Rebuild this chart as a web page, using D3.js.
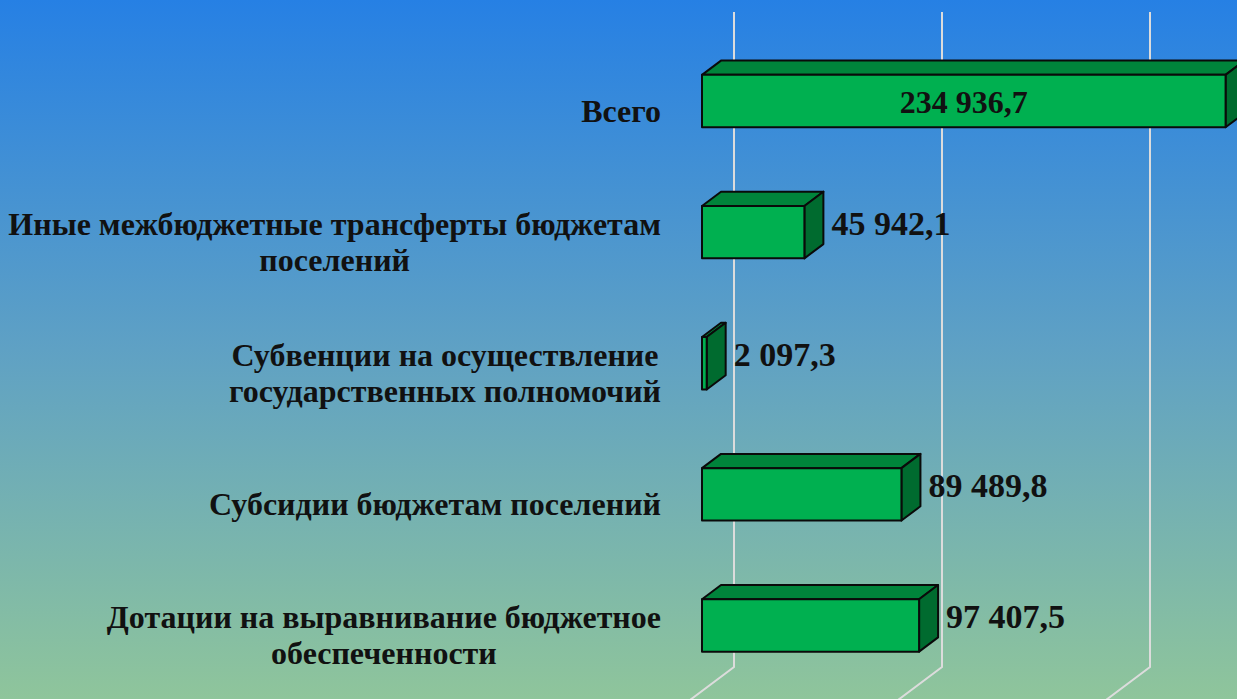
<!DOCTYPE html>
<html>
<head>
<meta charset="utf-8">
<script src="https://cdn.jsdelivr.net/npm/d3@7"></script>
<style>
  html, body { margin: 0; padding: 0; overflow: hidden; }
  svg { display: block; }
  text { font-family: "Liberation Serif", "Times New Roman", serif; font-weight: bold; fill: #111; }
</style>
</head>
<body>
<div id="chart"></div>
<script>
// категории сверху вниз, как на слайде
const categories = [
    'Всего',
    'Иные межбюджетные трансферты бюджетам поселений',
    'Субвенции на осуществление государственных полномочий',
    'Субсидии бюджетам поселений',
    'Дотации на выравнивание бюджетное обеспеченности'
];
const categoryLines = [
    ['Всего'],
    ['Иные межбюджетные трансферты бюджетам', 'поселений'],
    ['Субвенции на осуществление', 'государственных полномочий'],
    ['Субсидии бюджетам поселений'],
    ['Дотации на выравнивание бюджетное', 'обеспеченности']
];
const values = [234936.7, 45942.1, 2097.3, 89489.8, 97407.5];
const axisMax = 280000;
const gridCount = 3;

const W = 1237, H = 699;
const svg = d3.select('#chart').append('svg')
    .attr('width', W)
    .attr('height', H);

const defs = svg.append('defs');
const bg = defs.append('linearGradient')
    .attr('id', 'bg')
    .attr('x1', '0%').attr('y1', '0%')
    .attr('x2', '0%').attr('y2', '100%');
bg.append('stop').attr('offset', '0%').attr('stop-color', '#2680e4');
bg.append('stop').attr('offset', '50%').attr('stop-color', '#5fa1c4');
bg.append('stop').attr('offset', '100%').attr('stop-color', '#8fc59b');

svg.append('rect')
    .attr('width', W)
    .attr('height', H)
    .attr('fill', 'url(#bg)');

// 3D geometry
const slope = 0.75;           // dy per dx of depth
const floorDepth = 45;
const barDepth = 19;
const floorFront = 689;
const barX0 = floorFront + (floorDepth - barDepth) / 2;
const wallX0 = floorFront + floorDepth;
const floorY = 667;
const gridTop = 12;

const x = d3.scaleLinear()
    .domain([0, axisMax])
    .range([0, 624]);

const y = d3.scaleBand()
    .domain(categories)
    .range([35.5, 691])
    .paddingInner(0.6)
    .paddingOuter(0.3);

// gridlines on back wall + floor
const gridValues = d3.range(gridCount).map(i => i * axisMax / gridCount);
const grid = svg.append('g');
gridValues.forEach(v => {
    const gx = wallX0 + x(v);
    grid.append('path')
        .attr('d', `M${gx},${gridTop} L${gx},${floorY} L${gx - floorDepth * 1.3},${floorY + floorDepth * 1.3 * slope}`)
        .attr('fill', 'none')
        .attr('stroke', '#dcdcdc')
        .attr('stroke-width', 2);
});

const fmt = d3.formatLocale({decimal: ',', thousands: ' ', grouping: [3], currency: ['', '']}).format(',.1f');

const dx = barDepth, dy = barDepth * slope;
const bars = svg.append('g');

categories.forEach((c, i) => {
    const x1 = barX0, x2 = barX0 + x(values[i]);
    const y1 = y(c), y2 = y(c) + y.bandwidth();
    const g = bars.append('g')
        .attr('stroke', '#0a0a0a')
        .attr('stroke-width', 2)
        .attr('stroke-linejoin', 'round');
    // top face
    g.append('path')
        .attr('d', `M${x1},${y1} L${x1 + dx},${y1 - dy} L${x2 + dx},${y1 - dy} L${x2},${y1} Z`)
        .attr('fill', '#00843b');
    // right face
    g.append('path')
        .attr('d', `M${x2},${y1} L${x2 + dx},${y1 - dy} L${x2 + dx},${y2 - dy} L${x2},${y2} Z`)
        .attr('fill', '#006b2f');
    // front face
    g.append('rect')
        .attr('x', x1)
        .attr('y', y1)
        .attr('width', x2 - x1)
        .attr('height', y2 - y1)
        .attr('fill', '#00b050');

    const cy = y1 + y.bandwidth() / 2;
    if (i === 0) {
        svg.append('text')
            .attr('x', (x1 + x2) / 2)
            .attr('y', cy + 12)
            .attr('text-anchor', 'middle')
            .style('font-size', '32px')
            .text(fmt(values[i]));
    } else {
        svg.append('text')
            .attr('x', x2 + dx + 8)
            .attr('y', cy + 3)
            .style('font-size', '34px')
            .text(fmt(values[i]));
    }
});

// category labels: block right-aligned, lines centred inside the block
const labelRight = 661;
const lineH = 36;
categories.forEach((c, i) => {
    const lines = categoryLines[i];
    const g = svg.append('g');
    const texts = lines.map(l => g.append('text')
        .style('font-size', '32px')
        .attr('text-anchor', 'middle')
        .text(l));
    const maxW = d3.max(texts, t => t.node().getComputedTextLength());
    const center = y(c) + y.bandwidth() / 2 + 11;
    texts.forEach((t, k) => {
        t.attr('x', labelRight - maxW / 2)
         .attr('y', center - (lines.length - 1) * lineH / 2 + 10 + k * lineH);
    });
});
</script>
</body>
</html>
